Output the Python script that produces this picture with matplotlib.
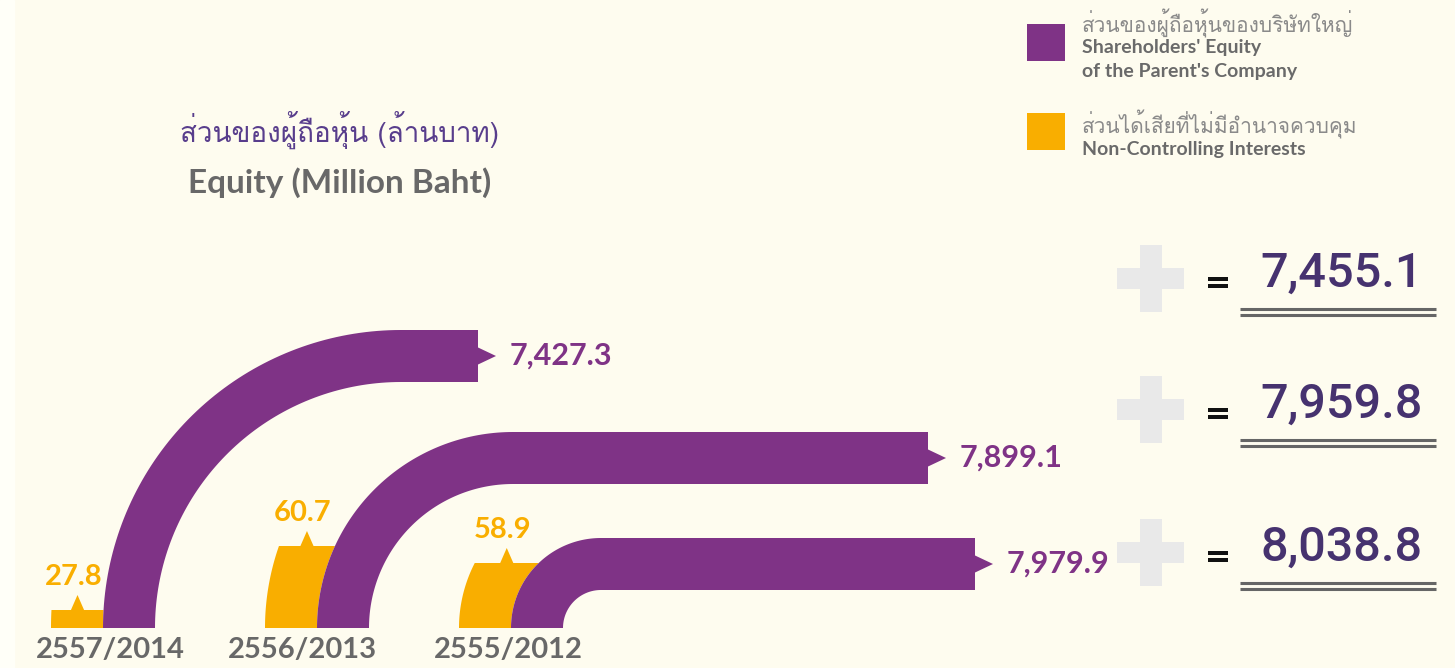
import numpy as np
import matplotlib
matplotlib.use("Agg")
import matplotlib.pyplot as plt
from matplotlib import font_manager, ft2font
from matplotlib.patches import Polygon, Rectangle

# data
years = ['2557/2014', '2556/2013', '2555/2012']
parent_equity = [7427.3, 7899.1, 7979.9]
nci = [27.8, 60.7, 58.9]
totals = [7455.1, 7959.8, 8038.8]

title_th = 'ส่วนของผู้ถือหุ้น (ล้านบาท)'
title_en = 'Equity (Million Baht)'
legend_th = ['ส่วนของผู้ถือหุ้นของบริษัทใหญ่', 'ส่วนได้เสียที่ไม่มีอำนาจควบคุม']
legend_en = [["Shareholders' Equity", "of the Parent's Company"], ['Non-Controlling Interests']]

# layout (pixels)
base_y = 628
band = 52
arc_cx = [401, 513, 601]
arc_r = [298, 196, 90]
bar_end = [478, 928, 975]
nci_top = [610, 546, 563]
year_x = [110, 302, 508]
total_y = [274, 405, 548]

PURPLE = '#7f3386'
ORANGE = '#f9ae00'
BG = '#fefcef'
GRAY = '#686868'


def thai_font():
    for f in font_manager.fontManager.ttflist:
        try:
            if 0x0E2A in ft2font.FT2Font(f.fname).get_charmap():
                return f.name
        except Exception:
            continue
    return 'DejaVu Sans'


TH = thai_font()
LAT = ['Lato', 'DejaVu Sans']
NUM = ['Roboto', 'DejaVu Sans']

fig = plt.figure(figsize=(14.55, 6.68), dpi=100)
fig.patch.set_facecolor(BG)
ax = fig.add_axes([0, 0, 1, 1])
ax.set_xlim(0, 1455)
ax.set_ylim(668, 0)
ax.axis('off')
ax.add_patch(Rectangle((0, 0), 14, 668, color='#fffff8', zorder=0))


def arc(cx, r, t0, t1, n=80):
    t = np.radians(np.linspace(t0, t1, n))
    return np.column_stack([cx + r * np.cos(t), base_y - r * np.sin(t)])


for i in range(len(years)):
    cx, r = arc_cx[i], arc_r[i]
    ri = r - band
    # purple bent bar
    outer = arc(cx, r, 180, 90)
    inner = arc(cx, ri, 90, 180)
    pts = np.vstack([outer, [[bar_end[i], base_y - r], [bar_end[i], base_y - ri]], inner])
    ax.add_patch(Polygon(pts, closed=True, color=PURPLE, lw=0, zorder=3))
    ym = base_y - r + band / 2
    ax.add_patch(Polygon([[bar_end[i] - 1, ym - 9], [bar_end[i] + 18, ym], [bar_end[i] - 1, ym + 9]],
                         closed=True, color=PURPLE, lw=0, zorder=3))
    ax.text(bar_end[i] + 32, ym, f'{parent_equity[i]:,.1f}', color=PURPLE, fontsize=22,
            fontweight='bold', family=LAT, va='center', ha='left', zorder=4)

    # orange segment outside the arc
    h = base_y - nci_top[i]
    R = r + band
    a_out = 180 - np.degrees(np.arcsin(h / R))
    a_in = 180 - np.degrees(np.arcsin(min(h / r, 1)))
    opts = np.vstack([arc(cx, R, 180, a_out, 40), arc(cx, r, a_in, 180, 40)])
    ax.add_patch(Polygon(opts, closed=True, color=ORANGE, lw=0, zorder=2))
    xl = cx + R * np.cos(np.radians(a_out))
    xr = cx + r * np.cos(np.radians(a_in))
    xm = (xl + xr) / 2
    ax.add_patch(Polygon([[xm - 7, nci_top[i] + 1], [xm, nci_top[i] - 15], [xm + 7, nci_top[i] + 1]],
                         closed=True, color=ORANGE, lw=0, zorder=2))
    ax.text(xm - 4, nci_top[i] - 20, f'{nci[i]:.1f}', color=ORANGE, fontsize=21,
            fontweight='bold', family=LAT, va='bottom', ha='center')

    # year label
    ax.text(year_x[i], 650, years[i], color=GRAY, fontsize=21, fontweight='bold',
            family=LAT, va='center', ha='center')

    # plus, equals and total
    y = total_y[i]
    py = y + 4
    ax.add_patch(Rectangle((1117, py - 10), 67, 21, color='#e9e9e9', lw=0, zorder=1))
    ax.add_patch(Rectangle((1140, py - 33), 22, 67, color='#e9e9e9', lw=0, zorder=1))
    ax.add_patch(Rectangle((1208, y + 3), 20, 4, color='#111111', lw=0))
    ax.add_patch(Rectangle((1208, y + 10), 20, 4, color='#111111', lw=0))
    ax.text(1423, y, f'{totals[i]:,.1f}', color='#46326f', fontsize=35, fontweight='medium',
            family=NUM, va='center', ha='right')
    ax.plot([1240, 1436], [y + 35, y + 35], color='#666666', lw=2.2, solid_capstyle='butt')
    ax.plot([1240, 1436], [y + 41, y + 41], color='#666666', lw=2.2, solid_capstyle='butt')

# titles
ax.text(180, 130, title_th, color='#583d8c', fontsize=20, family=[TH, 'DejaVu Sans'],
        va='center', ha='left')
ax.text(188, 183, title_en, color=GRAY, fontsize=24, fontweight='bold', family=LAT,
        va='center', ha='left')

# legend
leg_th_y = [23, 124]
leg_en_y = [[48, 71], [149]]
for k, (col, yy) in enumerate([(PURPLE, 24), (ORANGE, 113)]):
    ax.add_patch(Rectangle((1027, yy), 38, 37, color=col, lw=0))
    ax.text(1082, leg_th_y[k], legend_th[k], color='#8a8a8a', fontsize=15,
            family=[TH, 'DejaVu Sans'], va='center', ha='left')
    for line, ly in zip(legend_en[k], leg_en_y[k]):
        ax.text(1082, ly, line, color='#6a6a6a', fontsize=14, fontweight='bold',
                family=LAT, va='center', ha='left')

plt.savefig('out.png', dpi=100, facecolor=BG)
